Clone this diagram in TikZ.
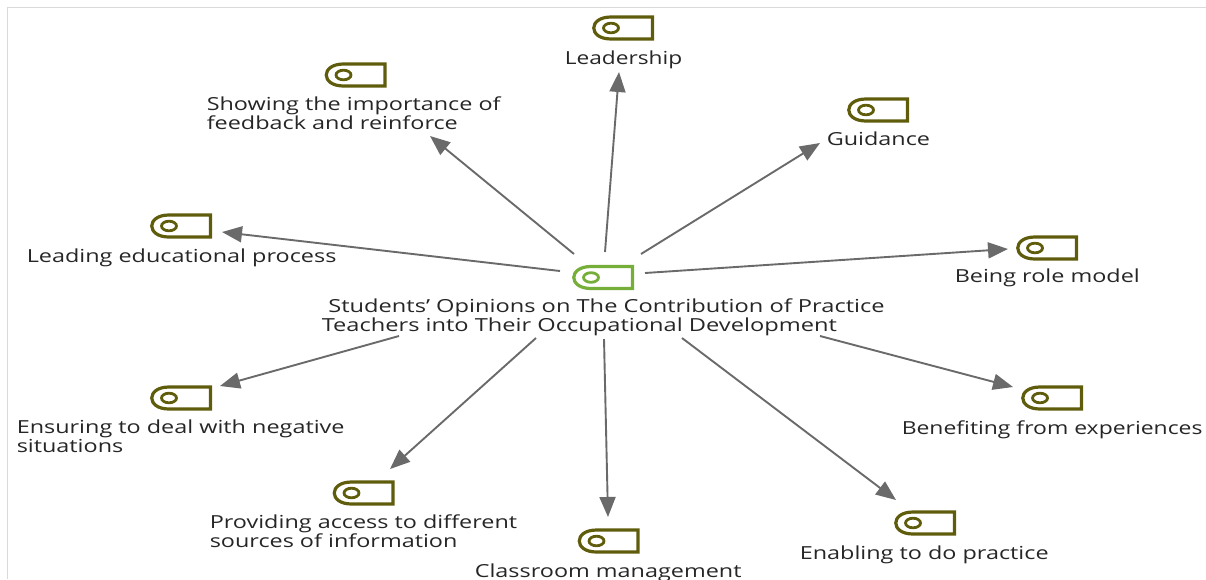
\documentclass[tikz,border=0pt]{standalone}
\usepackage{fontspec}
\setmainfont{Open Sans}
\definecolor{olivec}{HTML}{5F5C0C}
\definecolor{greenc}{HTML}{76AE3A}
\definecolor{arrowc}{HTML}{6A6A6A}
\definecolor{framec}{HTML}{DADADA}
\definecolor{textc}{HTML}{262626}
\usetikzlibrary{arrows.meta}
\tikzset{
  conn/.style={draw=arrowc,line width=1.9pt,-{Triangle[length=20pt,width=16pt,fill=arrowc]}},
  lab/.style={anchor=base west,inner sep=0pt,align=left,text=textc,font=\fontsize{18}{18.5}\selectfont,xscale=1.3},
  iconpic/.pic={
    \draw[line width=3.2pt,pic actions] (-12,-11) -- (29.5,-11) -- (29.5,11) -- (-12,11) .. controls (-35,11) and (-35,-11) .. (-12,-11) -- cycle;
    \draw[line width=2.8pt,pic actions] (-12,0) ellipse (7.5 and 4.8);
  },
  olive/.style={draw=olivec},
  hubicon/.style={draw=greenc}
}
\begin{document}
\begin{tikzpicture}[x=1pt,y=-1pt]
\useasboundingbox (0,0) rectangle (1206,579);
\draw[framec,line width=1.5pt] (1206,7.5) coordinate (fr) -- (7.5,7.5) coordinate (fa) -- (7.5,579) coordinate (fb);
% icons
\pic[olive] at (623,28) {iconpic};
\pic[olive] at (355.5,75) {iconpic};
\pic[olive] at (878,110) {iconpic};
\pic[olive] at (181,226) {iconpic};
\pic[hubicon] at (603,277.5) {iconpic};
\pic[olive] at (1047,248) {iconpic};
\pic[olive] at (181,398) {iconpic};
\pic[olive] at (1052,398) {iconpic};
\pic[olive] at (363.5,493) {iconpic};
\pic[olive] at (925,523) {iconpic};
\pic[olive] at (608.5,541) {iconpic};
% labels
\node[lab,xscale=0.97] (tlead) at (564.5,64) {Leadership};
\node[lab] (tshow) at (206.5,129) {Showing the importance of\\feedback and reinforce};
\node[lab] (tguid) at (826.5,145) {Guidance};
\node[lab] (tled) at (26.5,262) {Leading educational process};
\node[lab,xscale=1.01] (thub) at (321.5,331) {\hspace{5pt}Students’ Opinions on The Contribution of Practice\\Teachers into Their Occupational Development};
\node[lab] (trole) at (954.5,282) {Being role model};
\node[lab] (tens) at (16.5,452) {Ensuring to deal with negative\\situations};
\node[lab,xscale=0.98] (tben) at (901.5,434) {Benefiting from experiences};
\node[lab] (tprov) at (209.5,547) {Providing access to different\\sources of information};
\node[lab] (tena) at (799.5,559) {Enabling to do practice};
\node[lab] (tcla) at (474.5,577) {Classroom management};
% connector ends
\coordinate (s1) at (605,252); \coordinate (e1) at (619,72);
\coordinate (s2) at (641,254); \coordinate (e2) at (820,143);
\coordinate (s3) at (645,273); \coordinate (e3) at (1008,249);
\coordinate (s4) at (820,336); \coordinate (e4) at (1013,387);
\coordinate (s5) at (682,338); \coordinate (e5) at (896,500);
\coordinate (s6) at (604,339); \coordinate (e6) at (608,517);
\coordinate (s7) at (536,338); \coordinate (e7) at (390,469);
\coordinate (s8) at (399,336); \coordinate (e8) at (220,386);
\coordinate (s9) at (560,271); \coordinate (e9) at (222,232);
\coordinate (s10) at (574,254); \coordinate (e10) at (430,136);
\foreach \i in {1,...,10} \draw[conn] (s\i) -- (e\i);
\end{tikzpicture}
\end{document}
